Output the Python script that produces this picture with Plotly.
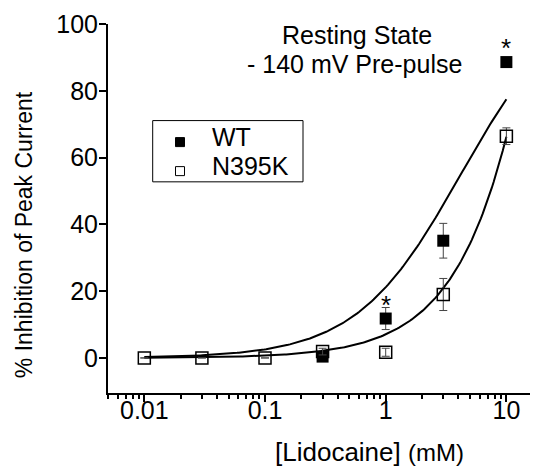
import numpy as np
import plotly.graph_objects as go

# ---- data ----
conc_n395k = [0.01, 0.03, 0.1, 0.3, 1, 3, 10]
inh_n395k = [0.0, 0.0, 0.0, 1.9, 1.7, 19.0, 66.4]
err_n395k = [0.0, 0.0, 0.0, 1.0, 1.2, 4.8, 2.5]

conc_wt = [0.3, 1, 3, 10]
inh_wt = [0.4, 11.8, 35.1, 88.6]
err_wt = [0.5, 3.3, 5.2, 1.0]

# Hill-type fit parameters (top, IC50 in mM, slope)
fit_wt = (110.0, 4.2, 1.0)
fit_n395k = (1000.0, 141.0, 1.0)

star_conc = [1, 10]
star_level = [11.8, 88.6]

legend_names = ["WT", "N395K"]

x_tickvals = [0.01, 0.1, 1, 10]
x_ticktext = ["0.01", "0.1", "1", "10"]
y_tickvals = [0, 20, 40, 60, 80, 100]

FONT = "Arial, Liberation Sans, sans-serif"

# plot-area geometry in window pixels (page body adds 8 px margin)
PX0, PX1, PY0, PY1 = 108.0, 538.0, 24.0, 392.7


def px(x):
    return (x - PX0) / (PX1 - PX0)


def py(y):
    return (PY1 - y) / (PY1 - PY0)


def hill(x, top, ic50, n):
    x = np.asarray(x, dtype=float)
    return top / (1.0 + (ic50 / x) ** n)


xfit = np.logspace(-2, 1, 200)

fig = go.Figure()
for p in (fit_wt, fit_n395k):
    fig.add_trace(go.Scatter(x=xfit, y=hill(xfit, *p), mode="lines",
                             line=dict(color="black", width=2),
                             showlegend=False, hoverinfo="skip"))

fig.add_trace(go.Scatter(
    x=conc_wt, y=inh_wt, mode="markers", showlegend=False, name=legend_names[0],
    marker=dict(symbol="square", size=12, color="black"),
    error_y=dict(type="data", array=err_wt, color="#444", thickness=1, width=4)))

fig.add_trace(go.Scatter(
    x=conc_n395k, y=inh_n395k, mode="markers", showlegend=False, name=legend_names[1],
    marker=dict(symbol="square-open", size=12, color="black", line=dict(width=1.5)),
    error_y=dict(type="data", array=err_n395k, color="#444", thickness=1, width=4)))

for xs, ys in zip(star_conc, star_level):
    fig.add_annotation(x=np.log10(xs), y=ys, text="*", showarrow=False,
                       xanchor="center", yanchor="middle",
                       yshift=14, font=dict(size=26, color="black", family=FONT))


def text_at(x, y, text, size, xanchor="center", angle=0):
    fig.add_annotation(xref="paper", yref="paper", x=px(x), y=py(y), text=text,
                       showarrow=False, xanchor=xanchor, yanchor="middle",
                       textangle=angle, font=dict(size=size, color="black", family=FONT))


text_at(357, 35, "Resting State", 25)
text_at(354, 64, "- 140 mV Pre-pulse", 25)
text_at(24, 235, "% Inhibition of Peak Current", 23, angle=-90)
text_at(369, 452, "[Lidocaine] <span style='font-size:24px'>(mM)</span>", 26)

# hand-drawn legend box
fig.add_shape(type="rect", xref="paper", yref="paper",
              x0=px(152.7), x1=px(303), y0=py(181.7), y1=py(120.5),
              line=dict(color="black", width=1), fillcolor="white", layer="below")
fig.add_shape(type="rect", xref="paper", yref="paper",
              x0=px(175.5), x1=px(184.5), y0=py(146.5), y1=py(137.5),
              line=dict(color="black", width=1), fillcolor="black")
fig.add_shape(type="rect", xref="paper", yref="paper",
              x0=px(175.5), x1=px(184.5), y0=py(175.5), y1=py(166.5),
              line=dict(color="black", width=1), fillcolor="white")
text_at(210, 137, legend_names[0], 25, xanchor="left")
text_at(210, 166, legend_names[1], 25, xanchor="left")

fig.update_layout(
    width=530, height=462,
    margin=dict(l=100, r=0, t=16, b=77),
    paper_bgcolor="white", plot_bgcolor="white",
    font=dict(family=FONT, size=25, color="black"),
    showlegend=False,
)
fig.update_xaxes(type="log", range=[-2.301, 1.262], showline=True, linecolor="black",
                 linewidth=2, ticks="outside", ticklen=7, tickwidth=1.5, tickcolor="black",
                 tickvals=x_tickvals, ticktext=x_ticktext, showgrid=False, zeroline=False,
                 ticklabelstandoff=-13,
                 minor=dict(ticks="outside", ticklen=4, tickwidth=1.5, tickcolor="black",
                            dtick="D1", showgrid=False))
fig.update_yaxes(range=[-10.5, 100], showline=True, linecolor="black", linewidth=2,
                 ticks="outside", ticklen=7, tickwidth=1.5, tickcolor="black",
                 ticklabelstandoff=-4,
                 tickvals=y_tickvals, showgrid=False, zeroline=False)

fig.write_html("out.html")
